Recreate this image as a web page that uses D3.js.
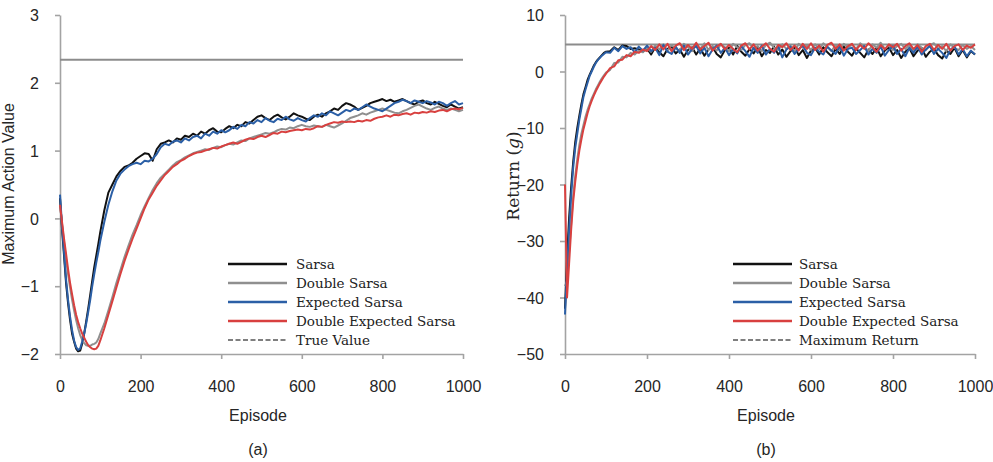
<!DOCTYPE html>
<html><head><meta charset="utf-8">
<script src="https://cdn.jsdelivr.net/npm/d3@7"></script>
<style>body{margin:0;background:#fff}svg{display:block}</style>
</head><body>
<svg id="c" width="993" height="462"></svg>
<script>
// ---------- DATA ----------
const episodes = [0,5,10,15,20,25,30,35,40,45,50,55,60,65,70,75,80,85,90,95,100,
110,120,130,140,150,160,170,180,190,200,
210,220,230,240,250,260,270,280,290,300,
310,320,330,340,350,360,370,380,390,400,
410,420,430,440,450,460,470,480,490,500,
510,520,530,540,550,560,570,580,590,600,
610,620,630,640,650,660,670,680,690,700,
710,720,730,740,750,760,770,780,790,800,
810,820,830,840,850,860,870,880,890,900,
910,920,930,940,950,960,970,980,990,1000];

const seriesNames = ["Sarsa","Double Sarsa","Expected Sarsa","Double Expected Sarsa"];
const seriesColors = ["#111111","#8f8f8f","#2b5fa6","#d8403f"];

// Panel (a): maximum action value
const sarsaValue = [0.3,-0.15,-0.55,-0.95,-1.25,-1.5,-1.7,-1.82,-1.92,-1.96,-1.95,-1.85,-1.7,-1.52,-1.33,-1.13,-0.92,-0.72,-0.55,-0.38,-0.2,
0.12,0.38,0.5,0.62,0.7,0.76,0.78,0.82,0.88,0.92,
0.96,0.95,0.85,1.02,1.1,1.12,1.15,1.12,1.18,1.16,
1.22,1.2,1.25,1.22,1.28,1.25,1.3,1.33,1.28,1.27,
1.32,1.36,1.33,1.38,1.36,1.42,1.4,1.45,1.5,1.52,
1.48,1.45,1.5,1.53,1.49,1.46,1.5,1.55,1.52,1.5,
1.47,1.45,1.5,1.53,1.5,1.55,1.58,1.62,1.6,1.66,
1.7,1.68,1.65,1.6,1.63,1.66,1.7,1.72,1.74,1.76,
1.73,1.75,1.72,1.74,1.76,1.73,1.7,1.68,1.72,1.74,
1.7,1.68,1.72,1.69,1.66,1.64,1.68,1.65,1.62,1.64];
const doubleSarsaValue = [0.2,-0.08,-0.35,-0.6,-0.82,-1.02,-1.2,-1.36,-1.5,-1.62,-1.72,-1.79,-1.84,-1.87,-1.88,-1.88,-1.86,-1.85,-1.83,-1.78,-1.7,
-1.55,-1.36,-1.16,-0.95,-0.76,-0.57,-0.4,-0.24,-0.1,0.05,
0.18,0.3,0.42,0.52,0.6,0.66,0.72,0.78,0.83,0.86,
0.9,0.93,0.96,0.98,1.0,1.02,1.01,1.04,1.06,1.05,
1.08,1.1,1.09,1.12,1.15,1.14,1.18,1.2,1.22,1.24,
1.26,1.25,1.27,1.3,1.32,1.31,1.34,1.33,1.36,1.38,
1.36,1.35,1.37,1.36,1.35,1.38,1.36,1.34,1.37,1.4,
1.44,1.48,1.5,1.52,1.55,1.53,1.56,1.58,1.6,1.62,
1.6,1.58,1.56,1.55,1.58,1.6,1.63,1.66,1.68,1.65,
1.62,1.6,1.63,1.65,1.62,1.6,1.62,1.6,1.58,1.6];
const expectedSarsaValue = [0.35,-0.1,-0.5,-0.9,-1.2,-1.45,-1.65,-1.8,-1.9,-1.94,-1.92,-1.82,-1.7,-1.55,-1.38,-1.2,-1.0,-0.82,-0.65,-0.5,-0.33,
-0.05,0.2,0.4,0.56,0.66,0.72,0.77,0.8,0.82,0.8,
0.85,0.84,0.88,0.95,1.05,1.1,1.08,1.13,1.15,1.12,
1.18,1.15,1.2,1.22,1.18,1.25,1.22,1.28,1.25,1.3,
1.27,1.3,1.35,1.32,1.38,1.36,1.42,1.4,1.45,1.42,
1.48,1.44,1.42,1.47,1.45,1.5,1.46,1.44,1.48,1.45,
1.43,1.48,1.52,1.5,1.55,1.52,1.58,1.55,1.52,1.56,
1.6,1.58,1.62,1.6,1.64,1.68,1.65,1.62,1.6,1.58,
1.62,1.66,1.7,1.72,1.75,1.73,1.7,1.74,1.72,1.7,
1.73,1.71,1.68,1.72,1.7,1.66,1.7,1.73,1.68,1.7];
const doubleExpectedSarsaValue = [0.2,-0.05,-0.3,-0.52,-0.75,-0.95,-1.12,-1.28,-1.42,-1.53,-1.62,-1.7,-1.76,-1.82,-1.87,-1.9,-1.92,-1.93,-1.92,-1.88,-1.8,
-1.62,-1.42,-1.22,-1.02,-0.82,-0.63,-0.46,-0.3,-0.15,0.0,
0.15,0.28,0.38,0.48,0.56,0.64,0.7,0.76,0.8,0.85,
0.88,0.92,0.95,0.97,0.98,1.0,1.02,1.04,1.03,1.06,
1.08,1.1,1.12,1.1,1.13,1.16,1.18,1.17,1.2,1.22,
1.2,1.23,1.26,1.25,1.28,1.27,1.29,1.3,1.31,1.3,
1.32,1.31,1.33,1.36,1.35,1.38,1.4,1.42,1.41,1.43,
1.42,1.43,1.42,1.44,1.43,1.45,1.44,1.47,1.49,1.5,
1.52,1.5,1.53,1.52,1.54,1.55,1.53,1.56,1.55,1.57,
1.56,1.58,1.57,1.59,1.6,1.58,1.61,1.62,1.61,1.63];
const trueValue = 2.34;

// Panel (b): return
const sarsaReturn = [-42,-33,-26,-20.5,-16,-12.5,-10,-7.8,-5.8,-4,-2.8,-1.5,-0.6,0.2,1.0,1.6,2.1,2.5,2.9,3.3,3.5,
3.6,4.3,3.8,4.6,4.5,4.0,4.1,3.9,3.5,4.1,
3.0,4.3,3.4,2.7,4.0,4.4,3.2,3.9,2.6,3.8,
4.3,3.0,4.1,2.8,3.9,4.4,3.1,2.5,3.8,4.2,
3.0,4.5,3.5,2.8,4.0,3.2,4.3,2.7,3.8,3.3,
4.4,3.0,3.9,2.6,3.6,4.3,2.9,3.8,2.4,3.7,
4.2,3.0,4.3,3.4,2.7,4.0,3.1,4.4,3.5,2.8,
4.1,3.3,2.5,3.9,3.1,4.2,2.7,3.7,4.3,2.9,
3.8,2.4,3.5,4.1,2.7,3.7,4.2,2.6,3.5,4.0,
2.9,2.3,3.7,3.1,4.2,2.7,3.8,2.5,3.6,3.0];
const doubleSarsaReturn = [-38,-37,-32,-27,-22,-18.5,-15.5,-13,-11,-9.5,-8,-6.8,-5.8,-4.8,-4,-3.2,-2.5,-1.8,-1.2,-0.7,-0.2,
0.3,1.5,1.6,2.6,2.5,3.3,3.0,3.7,3.4,4.2,
3.5,4.6,3.9,4.8,3.6,4.7,4.0,3.7,4.9,4.3,
3.6,4.7,4.0,5.0,3.8,4.5,3.7,4.8,4.3,3.6,
4.9,4.3,3.8,4.7,5.0,4.0,4.5,3.6,4.7,5.1,
4.2,3.8,4.8,4.0,4.6,3.5,4.9,4.2,4.6,3.8,
4.8,4.0,5.0,4.3,3.6,4.7,3.8,4.9,4.2,4.8,
4.0,5.0,4.4,3.6,4.8,4.2,5.1,4.0,4.6,3.8,
4.5,4.9,4.0,4.7,3.6,4.8,4.2,3.8,4.7,5.0,
4.0,4.5,3.6,4.8,4.2,3.8,4.7,4.0,4.5,3.8];
const expectedSarsaReturn = [-43,-35,-28,-22,-17,-13.5,-11,-8.5,-6.5,-4.5,-3.2,-2,-0.8,0,0.8,1.5,2,2.4,2.8,3.1,3.4,
3.3,4.2,3.6,4.5,4.0,4.3,3.4,4.4,3.7,4.6,
3.6,4.2,2.9,4.7,3.5,3.1,4.4,3.3,4.6,3.0,
4.0,4.5,3.2,4.2,2.7,3.9,4.6,3.3,4.2,2.9,
4.0,3.2,4.5,3.6,2.6,4.2,3.3,4.6,3.0,4.0,
3.3,4.5,2.5,3.9,4.4,3.1,4.0,4.6,3.3,2.9,
4.2,3.5,3.0,4.4,3.7,3.1,4.5,2.8,4.0,4.2,
3.1,3.8,4.5,3.0,4.0,3.3,4.4,2.8,3.8,4.5,
3.1,4.0,2.7,4.2,3.3,4.4,3.0,3.9,4.5,3.1,
4.0,3.3,2.4,3.9,4.4,3.0,4.0,2.7,3.7,3.0];
const doubleExpectedSarsaReturn = [-20,-40,-34,-28,-23,-19.5,-16.5,-14,-12,-10.2,-8.8,-7.4,-6.2,-5.2,-4.3,-3.5,-2.8,-2.1,-1.5,-0.9,-0.4,
0.6,0.9,2.0,2.1,2.9,2.7,3.5,3.3,3.9,3.6,
4.5,3.8,4.8,3.9,4.9,3.6,4.6,5.0,3.8,4.7,
4.0,5.1,3.9,4.5,5.1,3.7,4.4,4.9,3.9,4.7,
4.0,3.4,4.6,5.0,3.9,4.8,3.7,4.4,5.0,4.0,
3.5,4.7,4.3,5.0,3.8,4.6,3.7,4.9,4.0,5.0,
3.8,4.6,3.5,4.7,5.1,4.0,4.8,3.7,4.5,4.9,
3.8,4.7,4.0,5.0,4.3,3.5,4.7,3.9,4.8,4.3,
4.9,3.7,4.5,5.0,4.0,4.7,3.5,4.5,4.9,3.8,
4.7,4.0,4.9,3.7,4.5,4.8,3.8,4.6,4.2,4.8];
const maxReturn = 4.8;

const xTicks = [0,200,400,600,800,1000];
const yTicksA = [-2,-1,0,1,2,3];
const yTicksB = [-50,-40,-30,-20,-10,0,10];

// ---------- DRAW ----------
const svg = d3.select("#c");
const axisColor = "#a3a3a3";
const sans = "'Liberation Sans', Arial, sans-serif";
const serif = "'DejaVu Serif', serif";

function panel(cfg) {
  const x = d3.scaleLinear().domain([0,1000]).range([cfg.x0, cfg.x1]);
  const y = d3.scaleLinear().domain(cfg.yDomain).range([354, 15]);
  const g = svg.append("g");

  const ya = g.append("g").attr("transform", `translate(${cfg.x0},0)`)
    .call(d3.axisLeft(y).tickValues(cfg.yTicks).tickSize(5).tickSizeOuter(0).tickPadding(16).tickFormat(d3.format("d")));
  const xa = g.append("g").attr("transform", `translate(0,354)`)
    .call(d3.axisBottom(x).tickValues(xTicks).tickSize(5).tickSizeOuter(0).tickFormat(d3.format("d")));
  [ya, xa].forEach(a => {
    a.selectAll("path.domain").attr("stroke", axisColor).attr("stroke-width", 1.6);
    a.selectAll(".tick line").attr("stroke", axisColor).attr("stroke-width", 1.6);
    a.selectAll(".tick text").attr("fill", "#262626").style("font-family", sans).style("font-size", "16px");
  });
  ya.selectAll(".tick text").attr("dy", "0.35em");
  xa.selectAll(".tick text").attr("y", 38).attr("dy", 0);

  g.append("line").attr("x1", x(0)).attr("x2", x(1000))
    .attr("y1", y(cfg.ref)).attr("y2", y(cfg.ref))
    .attr("stroke", "#8c8c8c").attr("stroke-width", 2);

  const line = d3.line().x((d,i) => x(episodes[i])).y(d => y(d));
  cfg.series.forEach((s, k) => {
    g.append("path").datum(s).attr("d", line).attr("fill", "none")
      .attr("stroke", seriesColors[k]).attr("stroke-width", 2).attr("stroke-linejoin", "round");
  });

  const lg = g.append("g");
  const labels = seriesNames.concat([cfg.refLabel]);
  labels.forEach((lab, k) => {
    const yy = 264 + k * 19;
    lg.append("line").attr("x1", cfg.legX).attr("x2", cfg.legX + 59)
      .attr("y1", yy).attr("y2", yy)
      .attr("stroke", k < 4 ? seriesColors[k] : "#555")
      .attr("stroke-width", k < 4 ? 2.5 : 1.5)
      .attr("stroke-dasharray", k < 4 ? null : "5,2.5");
    lg.append("text").attr("x", cfg.legX + cfg.legText).attr("y", yy + 4.5)
      .style("font-family", serif).style("font-size", "13.5px").attr("fill", "#222").text(lab);
  });

  g.append("text").attr("x", cfg.cx).attr("y", 421).attr("text-anchor", "middle")
    .style("font-family", sans).style("font-size", "16px").attr("fill", "#262626").text("Episode");
  g.append("text").attr("x", cfg.cx).attr("y", 455).attr("text-anchor", "middle")
    .style("font-family", sans).style("font-size", "16px").attr("fill", "#262626").text(cfg.caption);
  return g;
}

panel({x0: 60, x1: 463, yDomain: [-2,3], yTicks: yTicksA, ref: trueValue, refLabel: "True Value",
  series: [sarsaValue, doubleSarsaValue, expectedSarsaValue, doubleExpectedSarsaValue],
  legX: 228, legText: 68, cx: 258, caption: "(a)"});
panel({x0: 565, x1: 975, yDomain: [-50,10], yTicks: yTicksB, ref: maxReturn, refLabel: "Maximum Return",
  series: [sarsaReturn, doubleSarsaReturn, expectedSarsaReturn, doubleExpectedSarsaReturn],
  legX: 733, legText: 66, cx: 766, caption: "(b)"});

svg.append("text").attr("transform", "translate(14,184) rotate(-90)").attr("text-anchor", "middle")
  .style("font-family", sans).style("font-size", "16px").attr("fill", "#262626").text("Maximum Action Value");
const rt = svg.append("text").attr("transform", "translate(519,176) rotate(-90)").attr("text-anchor", "middle")
  .style("font-family", serif).style("font-size", "17px").attr("fill", "#262626");
rt.append("tspan").text("Return (");
rt.append("tspan").style("font-style", "italic").text("g");
rt.append("tspan").text(")");
</script>
</body></html>
